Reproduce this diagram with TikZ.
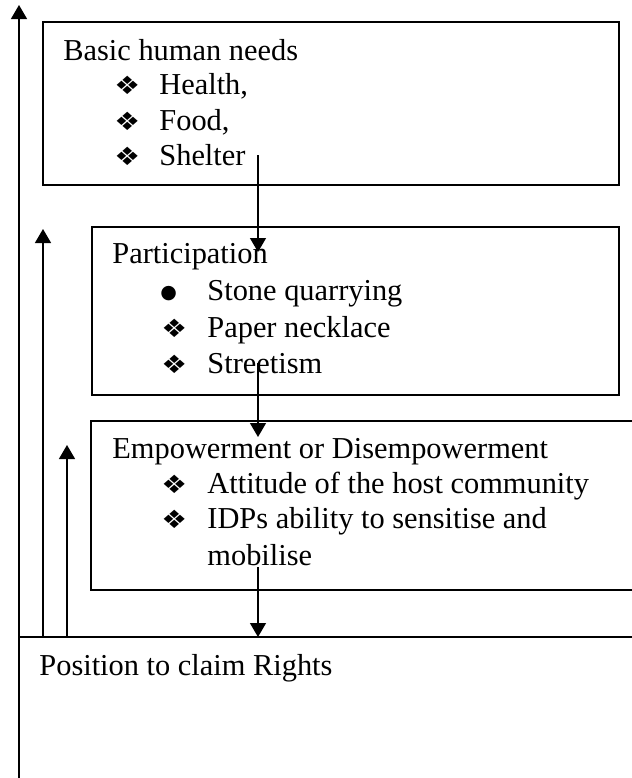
\documentclass[tikz,border=0pt]{standalone}
\usepackage{fontspec}
\usepackage{graphicx}
\setmainfont{Liberation Serif}
\newfontfamily\symfont{DejaVu Sans}
\usetikzlibrary{arrows.meta}
\newcommand{\dia}{\scalebox{1.2}[1.05]{\symfont\char"2756}}
\newcommand{\dotmark}{\raisebox{1pt}{\symfont\fontsize{9.5pt}{10pt}\selectfont\char"25CF}}
\begin{document}
\begin{tikzpicture}[x=0.5pt,y=-0.5pt,
  box/.style={draw,line width=1pt,inner sep=0pt},
  rule/.style={line width=1pt},
  flow/.style={-{Triangle[width=8pt,length=7pt]},line width=0.7pt},
  txt/.style={anchor=base west,inner sep=0pt,font=\fontsize{15.2pt}{18pt}\selectfont},
  glyph/.style={anchor=base west,inner sep=0pt,font=\fontsize{12pt}{15pt}\selectfont}]
\useasboundingbox (0,0) rectangle (632,778);

% boxes
\node[box,anchor=north west,minimum width=288pt,minimum height=81.5pt] (needs) at (42,21) {};
\node[box,anchor=north west,minimum width=263.5pt,minimum height=84pt] (part) at (91,226) {};
\draw[rule] (632,421) -- (91,421) -- (91,590) -- (632,590);
\draw[rule] (19,637) -- (632,637);

% basic human needs
\node[txt] (t1) at (63,60) {Basic human needs};
\node[glyph] (m11) at (114,94) {\dia};
\node[txt] (t11) at (159,94) {Health,};
\node[glyph] (m12) at (114,130) {\dia};
\node[txt] (t12) at (159,130) {Food,};
\node[glyph] (m13) at (114,165) {\dia};
\node[txt] (t13) at (159,165) {Shelter};

% participation
\node[txt] (t2) at (112,263) {Participation};
\node[glyph] (m21) at (160,300) {\dotmark};
\node[txt] (t21) at (207,300) {Stone quarrying};
\node[glyph] (m22) at (161,337) {\dia};
\node[txt] (t22) at (207,337) {Paper necklace};
\node[glyph] (m23) at (161,373) {\dia};
\node[txt] (t23) at (207,373) {Streetism};

% empowerment
\node[txt] (t3) at (112,458) {Empowerment or Disempowerment};
\node[glyph] (m31) at (161,493) {\dia};
\node[txt] (t31) at (207,493) {Attitude of the host community};
\node[glyph] (m32) at (161,528) {\dia};
\node[txt] (t32) at (207,528) {IDPs ability to sensitise and};
\node[txt] (t33) at (207,565) {mobilise};

% rights
\node[txt] (t4) at (39,675) {Position to claim Rights};

% connectors
\coordinate (lb) at (19,778);  \coordinate (lt) at (19,5);
\coordinate (ab) at (43,637);  \coordinate (at) at (43,229);
\coordinate (bb) at (67,637);  \coordinate (bt) at (67,445);
\coordinate (d1s) at (258,155); \coordinate (d1e) at (258,252);
\coordinate (d2s) at (258,363); \coordinate (d2e) at (258,437);
\coordinate (d3s) at (258,567); \coordinate (d3e) at (258,637);
\draw[flow] (lb) -- (lt);
\draw[flow] (ab) -- (at);
\draw[flow] (bb) -- (bt);
\draw[flow] (d1s) -- (d1e);
\draw[flow] (d2s) -- (d2e);
\draw[flow] (d3s) -- (d3e);
\end{tikzpicture}
\end{document}
